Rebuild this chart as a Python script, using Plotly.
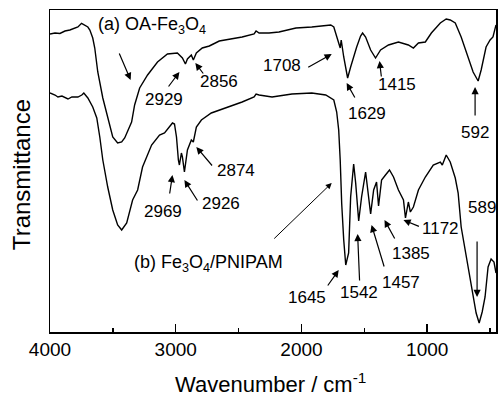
import plotly.graph_objects as go

# ---- data (wavenumber in cm^-1, transmittance in a.u.) ----
wn_a = [4000, 3960, 3921, 3881, 3842, 3802, 3778, 3749, 3723, 3699, 3683, 3660, 3644, 3620,
        3580, 3541, 3501, 3462, 3430, 3406, 3351, 3327, 3287, 3224, 3145, 3066, 2994, 2987,
        2947, 2923, 2907, 2876, 2860, 2836, 2789, 2733, 2654, 2598, 2472, 2377, 2361, 2337,
        2258, 2179, 2044, 1918, 1807, 1767, 1743, 1728, 1704, 1692, 1684, 1664, 1633, 1625,
        1609, 1561, 1530, 1514, 1490, 1450, 1411, 1371, 1308, 1229, 1150, 1110, 1070, 1015,
        967, 896, 849, 817, 777, 730, 674, 635, 595, 571, 532, 500, 477, 461, 453]
t_a = [298, 299, 298.5, 301, 302, 304, 305, 308.7, 307, 305, 302, 294, 284, 260,
       234, 214, 195, 189, 190, 194, 210, 227, 244, 257, 270, 278, 279, 279,
       274, 268, 273, 277, 272, 279, 284, 286, 291, 292, 295, 298, 301, 299,
       299, 300, 304, 305, 307, 307, 305, 299, 290, 284, 292, 275, 254, 257,
       265, 285, 296, 299, 295, 282, 274, 282, 287, 290, 287, 284, 289, 290,
       299, 309, 313, 312, 309, 295, 275, 260, 251, 262, 285, 292, 295, 305, 307]

wn_b = [4000, 3960, 3937, 3905, 3857, 3826, 3778, 3747, 3731, 3715, 3699, 3660, 3628, 3604,
        3580, 3541, 3501, 3462, 3430, 3390, 3343, 3303, 3264, 3192, 3129, 3089, 3050, 3026,
        3010, 2994, 2979, 2971, 2955, 2947, 2931, 2907, 2876, 2860, 2836, 2796, 2717, 2598,
        2472, 2377, 2361, 2337, 2234, 2076, 1918, 1807, 1743, 1720, 1704, 1692, 1680, 1664,
        1648, 1625, 1609, 1585, 1569, 1545, 1522, 1490, 1474, 1450, 1426, 1403, 1387, 1363,
        1332, 1300, 1268, 1229, 1189, 1173, 1150, 1134, 1110, 1070, 1015, 952, 896, 880,
        849, 817, 777, 754, 730, 698, 659, 627, 611, 587, 563, 540, 516, 492, 469, 453]
t_b = [239, 237, 235, 236, 233, 235, 235, 237, 239, 236, 234, 225, 214, 195,
       172, 145, 122, 107, 102, 109, 132, 142, 165, 187, 197, 199, 205, 209,
       208, 195, 172, 167, 179, 175, 160, 182, 192, 190, 205, 212, 219, 224,
       230, 235, 238, 237, 235, 238, 239, 237, 232, 220, 202, 172, 128, 92,
       67, 79, 135, 168, 149, 111, 135, 160, 142, 118, 142, 150, 126, 152,
       157, 162, 155, 142, 132, 114, 130, 120, 125, 142, 155, 167, 170, 167,
       177, 170, 154, 139, 105, 82, 52, 27, 19, 9, 20, 35, 65, 73, 70, 59]

x_ticks = [4000, 3000, 2000, 1000]
x_tick_labels = ["4000", "3000", "2000", "1000"]
x_minor_ticks = [3500, 2500, 1500, 500]

FONT = "Liberation Sans, Arial, sans-serif"
X0, X1 = 4000, 453
Y0, Y1 = 0, 322

fig = go.Figure()
for wn, t in ((wn_a, t_a), (wn_b, t_b)):
    fig.add_trace(go.Scatter(x=wn, y=t, mode="lines",
                             line=dict(color="black", width=1.4),
                             showlegend=False, hoverinfo="skip"))

# helper: reference pixel -> data coordinates (plot area 50..498 x 10..332)
def d(px, py):
    return X0 - (px - 50) / 448 * (X0 - X1), 332 - py

annotations = []

def label(text, px, py, size=17):
    x, y = d(px, py)
    annotations.append(dict(x=x, y=y, text=text, showarrow=False, xanchor="center",
                            yanchor="middle", font=dict(family=FONT, size=size, color="black")))

def arrow(hx, hy, tx, ty, width=1.2):
    x, y = d(hx, hy)
    annotations.append(dict(x=x, y=y, text="", showarrow=True, axref="pixel", ayref="pixel",
                            ax=tx - hx, ay=ty - hy, arrowhead=2, arrowsize=1.2,
                            arrowwidth=width, arrowcolor="black", standoff=0, startstandoff=0))

label("(a) OA-Fe<sub>3</sub>O<sub>4</sub>", 152, 25, 18)
arrow(131, 80, 119, 52)
label("2929", 165, 99); arrow(180, 72, 168, 88)
label("2856", 220, 81); arrow(196, 63, 205, 75)
label("1708", 283, 65); arrow(333, 54, 308, 68)
label("1629", 368, 113); arrow(348, 83, 357, 99)
label("1415", 399, 84); arrow(381, 61, 383, 78)
label("592", 477, 132); arrow(477, 87, 477, 117)
label("2874", 237, 170); arrow(197, 147, 214, 167)
label("2926", 222, 203); arrow(185, 180, 199, 202)
label("2969", 164, 211); arrow(173, 175, 170, 195)
label("(b) Fe<sub>3</sub>O<sub>4</sub>/PNIPAM", 209, 263, 18)
arrow(333, 183, 274, 240, width=1)
label("1645", 308, 297); arrow(340, 270, 328, 287)
label("1542", 360, 292); arrow(359, 234, 361, 282)
label("1457", 403, 282); arrow(373, 225, 386, 268)
label("1385", 413, 253); arrow(386, 220, 397, 240)
label("1172", 442, 228); arrow(405, 220, 422, 227)
label("589", 484, 207); arrow(479, 297, 479, 240)

# axis titles
annotations.append(dict(xref="paper", yref="paper", x=(271 - 50) / 448, y=(332 - 383) / 322,
                        text="Wavenumber / cm<sup>-1</sup>", showarrow=False,
                        xanchor="center", yanchor="middle",
                        font=dict(family=FONT, size=22, color="black")))
annotations.append(dict(xref="paper", yref="paper", x=(21 - 50) / 448, y=(332 - 175) / 322,
                        text="Transmittance", showarrow=False, textangle=-90,
                        xanchor="center", yanchor="middle",
                        font=dict(family=FONT, size=24, color="black")))

fig.update_layout(
    width=498, height=398,
    margin=dict(l=50, r=0, t=10, b=66),
    paper_bgcolor="white", plot_bgcolor="white",
    annotations=annotations,
    font=dict(family=FONT, color="black"),
)
fig.update_xaxes(range=[X0, X1], showgrid=False, zeroline=False,
                 showline=True, linecolor="black", linewidth=1.5, mirror=True,
                 ticks="inside", ticklen=8, tickwidth=1.5, tickcolor="black",
                 tickvals=x_ticks, ticktext=x_tick_labels,
                 tickfont=dict(family=FONT, size=19, color="black"),
                 minor=dict(tickvals=x_minor_ticks, ticks="inside",
                            ticklen=4, tickwidth=1.5, tickcolor="black"))
fig.update_yaxes(range=[Y0, Y1], showgrid=False, zeroline=False,
                 showline=True, linecolor="black", linewidth=1.5, mirror=True,
                 showticklabels=False, ticks="")

# remove the default 8px page margin and any scrollbars so the figure fills the window
fig.write_html(
    "out.html",
    config={"displayModeBar": False, "staticPlot": True},
    post_script=(
        "document.body.style.margin='0';"
        "document.body.style.overflow='hidden';"
        "document.documentElement.style.overflow='hidden';"
    ),
)
